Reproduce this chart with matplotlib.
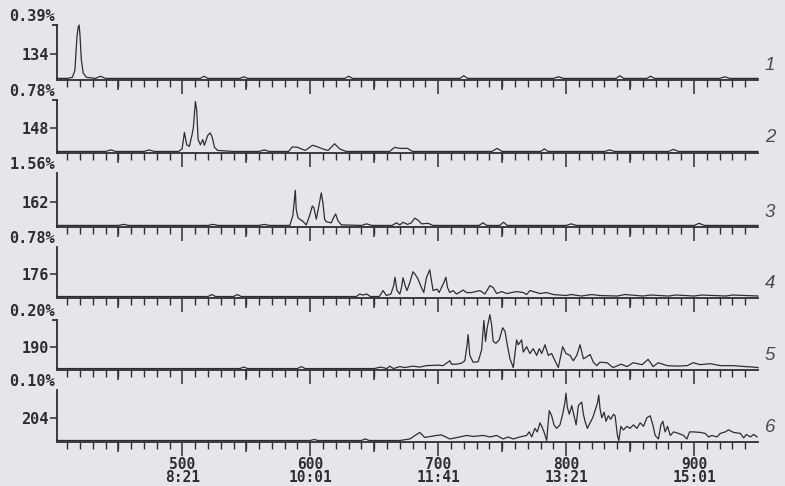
#!/usr/bin/env python

import numpy as np
import matplotlib.pyplot as plt

output_filepath = "out.png"

# Mass traces (scan number, relative intensity)
scan_134 = [402, 410, 414, 416, 417.5, 418.5, 419.3, 420, 421, 422.5, 425, 432,
            436, 440, 514, 517, 520, 545, 548, 551, 627, 630, 633, 717, 720, 723,
            790, 794, 798, 839, 842, 845, 863, 866, 869, 920, 924, 928, 950]
int_134 = [0, 0, 0.02, 0.15, 0.75, 0.95, 1.0, 0.8, 0.35, 0.1, 0.02, 0,
           0.04, 0, 0, 0.04, 0, 0, 0.03, 0, 0, 0.04, 0, 0, 0.05, 0,
           0, 0.03, 0, 0, 0.05, 0, 0, 0.04, 0, 0, 0.03, 0, 0]

scan_148 = [402, 440, 444, 448, 470, 474, 478, 497, 499.8, 501.6, 503.4, 505.5,
            507.6, 508.6, 510.2, 511.2, 512.3, 514.1, 515.9, 517.2, 519.8, 521.7,
            523.3, 525.1, 527.6, 540, 560, 564, 568, 583, 586, 590, 596, 601.8,
            605.7, 609.6, 614, 619, 623, 628, 662, 666, 670, 676, 680, 700, 742,
            746, 750, 780, 783, 786, 830, 834, 838, 880, 884, 888, 950]
int_148 = [0, 0, 0.03, 0, 0, 0.03, 0, 0, 0.05, 0.37, 0.13, 0.1,
           0.33, 0.47, 0.97, 0.81, 0.23, 0.13, 0.23, 0.12, 0.31, 0.36,
           0.28, 0.08, 0.02, 0, 0, 0.03, 0, 0, 0.09, 0.08, 0.02, 0.12,
           0.09, 0.05, 0.02, 0.15, 0.05, 0, 0, 0.08, 0.06, 0.06, 0, 0, 0,
           0.06, 0, 0, 0.05, 0, 0, 0.03, 0, 0, 0.04, 0, 0]

scan_162 = [402, 450, 454, 458, 520, 524, 528, 560, 564, 568, 584, 586.4, 588.3,
            589, 590.3, 591.6, 593.7, 596.9, 599.5, 601.6, 602.8, 604.7, 606.7,
            608.6, 609.9, 611.2, 612.5, 616.4, 618.2, 619.8, 621.6, 624.3, 640,
            644, 648, 664, 667.3, 670, 672.5, 676, 679, 681.7, 684.3, 687, 692.1,
            696, 732, 735, 738, 748, 751, 754, 800, 804, 808, 900, 904, 908, 950]
int_162 = [0, 0, 0.02, 0, 0, 0.02, 0, 0, 0.02, 0, 0, 0.19, 0.67,
           0.31, 0.15, 0.12, 0.09, 0.01, 0.19, 0.37, 0.34, 0.12, 0.37,
           0.62, 0.43, 0.12, 0.07, 0.05, 0.15, 0.22, 0.09, 0.01, 0,
           0.03, 0, 0, 0.05, 0.01, 0.06, 0.02, 0.05, 0.14, 0.1, 0.03, 0.04,
           0, 0, 0.05, 0, 0, 0.06, 0, 0, 0.03, 0, 0, 0.04, 0, 0]

scan_176 = [402, 520, 523, 526, 540, 543, 546, 636, 638.6, 641, 644.1, 647, 654,
            656.9, 659.5, 663, 665.2, 666.2, 667.8, 670, 671.3, 672.5, 674.4,
            675.6, 677.8, 680.3, 682.2, 684.3, 686.9, 688.7, 690.8, 693.4, 694.8,
            696, 699.1, 700.7, 704.4, 706, 707.3, 709.1, 711.7, 714.3, 719.5,
            722.2, 726.1, 732.6, 736.5, 740.4, 743, 745.7, 749.6, 753.5, 761.3,
            766.5, 769.1, 771.7, 779.6, 784.8, 790, 800, 804, 812, 820, 826, 840,
            846, 860, 866, 880, 886, 900, 906, 925, 930, 950]
int_176 = [0, 0, 0.04, 0, 0, 0.04, 0, 0, 0.05, 0.03, 0.05, 0, 0,
           0.12, 0.02, 0.05, 0.22, 0.39, 0.12, 0.05, 0.18, 0.38, 0.2,
           0.12, 0.28, 0.5, 0.44, 0.35, 0.18, 0.08, 0.38, 0.54, 0.31,
           0.12, 0.15, 0.08, 0.28, 0.39, 0.18, 0.08, 0.12, 0.05, 0.13,
           0.08, 0.08, 0.12, 0.05, 0.22, 0.18, 0.06, 0.1, 0.06, 0.1,
           0.08, 0.04, 0.12, 0.06, 0.08, 0.04, 0.02, 0.04, 0.01, 0.04, 0.02, 0.01,
           0.04, 0.01, 0.03, 0.01, 0.03, 0.01, 0.03, 0.01, 0.03, 0.01]

scan_190 = [402, 545, 548, 551, 590, 593, 596, 650, 655, 660, 662, 665, 670, 674,
            680, 685.6, 690.8, 699.9, 703.8, 709.1, 710.4, 714.3, 718.2, 720.8,
            722.6, 723.4, 724.7, 727.3, 731.2, 733.9, 735.7, 737, 738.3, 740.4,
            741.7, 743, 745.1, 747.7, 750.4, 752.2, 754, 756.1, 758.7, 761.3,
            762.6, 765.2, 766.5, 769.1, 771.7, 774.3, 777, 779, 780.9, 783.5,
            786.1, 788.7, 791.3, 793.9, 797.3, 799.9, 803.1, 805.6, 808.3, 810.9,
            813.5, 816.1, 818.7, 821.3, 823.9, 826.5, 832, 836.7, 843, 847.7,
            852.4, 859.4, 864.1, 868, 872, 879, 886.8, 894.7, 899.4, 904.9, 912.7,
            920.5, 930.7, 940, 946.4, 950]
int_190 = [0, 0, 0.03, 0, 0, 0.04, 0, 0, 0.03, 0, 0.05, 0, 0.04, 0.02,
           0.05, 0.03, 0.06, 0.07, 0.06, 0.16, 0.09, 0.09, 0.11, 0.16,
           0.49, 0.7, 0.27, 0.13, 0.14, 0.38, 0.99, 0.56, 0.84, 1.11,
           0.91, 0.56, 0.52, 0.59, 0.84, 0.77, 0.49, 0.2, 0.02, 0.59,
           0.49, 0.59, 0.34, 0.45, 0.31, 0.41, 0.27, 0.41, 0.31, 0.49,
           0.27, 0.31, 0.16, 0.02, 0.45, 0.31, 0.27, 0.16, 0.27, 0.49,
           0.2, 0.24, 0.29, 0.13, 0.06, 0.13, 0.12, 0.02, 0.09, 0.04,
           0.12, 0.08, 0.19, 0.04, 0.12, 0.06, 0.05, 0.06, 0.12, 0.08, 0.1,
           0.06, 0.06, 0.04, 0.03, 0.02]

scan_204 = [402, 600, 603, 606, 640, 643, 646, 670, 677.8, 685.6, 689.5, 698.7,
            702.6, 709.1, 715, 722.2, 727.3, 735.2, 740.4, 745.7, 750.8, 754.7,
            758.7, 763.9, 769.1, 771.2, 773.1, 775.6, 777.4, 779.6, 780.9, 782.7,
            784.8, 786.8, 788.7, 790.5, 792.6, 795.2, 797.3, 799.1, 799.9, 800.9,
            802.5, 804.4, 806.2, 807.8, 809.6, 810.9, 812.2, 813.5, 814.8, 816.6,
            818.7, 820.8, 822.6, 824.4, 825.5, 826.5, 827.9, 829.7, 831.2, 833,
            834.9, 837, 838.3, 840.1, 841.2, 842.8, 844.8, 847.5, 850, 852.6,
            855.3, 857.9, 860.5, 863.1, 865.7, 867.8, 869.6, 872.2, 874.1, 875.6,
            877.4, 879.3, 881.4, 884, 887.9, 891.8, 894.4, 896.5, 899.6, 904.9,
            908.8, 911.4, 914, 917.9, 920.5, 924.4, 927, 930.9, 936.2, 938.8,
            940.9, 944, 946.6, 949.3]
int_204 = [0, 0, 0.02, 0, 0, 0.03, 0, 0, 0.03, 0.16, 0.06, 0.1,
           0.11, 0.03, 0.06, 0.1, 0.08, 0.1, 0.07, 0.1, 0.03, 0.07,
           0.03, 0.07, 0.1, 0.17, 0.07, 0.24, 0.17, 0.35, 0.28, 0.17,
           0, 0.59, 0.49, 0.31, 0.24, 0.31, 0.52, 0.76, 0.94, 0.66,
           0.52, 0.69, 0.49, 0.31, 0.69, 0.73, 0.76, 0.52, 0.38, 0.24,
           0.35, 0.45, 0.59, 0.73, 0.9, 0.63, 0.45, 0.56, 0.38, 0.49,
           0.42, 0.52, 0.49, 0.1, 0, 0.28, 0.21, 0.28, 0.24, 0.31,
           0.24, 0.35, 0.28, 0.45, 0.49, 0.31, 0.1, 0.03, 0.31, 0.38,
           0.17, 0.28, 0.1, 0.17, 0.14, 0.1, 0.03, 0.17, 0.17, 0.16,
           0.14, 0.07, 0.1, 0.07, 0.14, 0.17, 0.21, 0.16, 0.14, 0.05,
           0.12, 0.07, 0.12, 0.07]

masses = [134, 148, 162, 176, 190, 204]
full_scale = ["0.39%", "0.78%", "1.56%", "0.78%", "0.20%", "0.10%"]
trace_numbers = ["1", "2", "3", "4", "5", "6"]
scans = [scan_134, scan_148, scan_162, scan_176, scan_190, scan_204]
intensities = [int_134, int_148, int_162, int_176, int_190, int_204]

tick_scans = [500, 600, 700, 800, 900]
tick_times = ["8:21", "10:01", "11:41", "13:21", "15:01"]

# layout of the printout, in pixels of the 785x486 page
W, H = 785, 486
panel_top = [25, 100, 173, 247, 320, 390]
panel_base = [80, 153, 227, 298, 370, 442]
hooked = [True, True, False, False, True, False]
x_left, x_right = 57, 758

paper = '#e4e6ea'
ink = '#2e2e30'

plt.rcParams['font.family'] = 'DejaVu Sans Mono'
plt.rcParams['font.weight'] = 'bold'

fig = plt.figure(figsize=(W / 100, H / 100), dpi=100, facecolor=paper)

for i in range(6):
    top, base = panel_top[i], panel_base[i]
    ax = fig.add_axes([x_left / W, 1 - base / H, (x_right - x_left) / W, (base - top) / H])
    ax.set_facecolor('none')
    ax.plot(scans[i], intensities[i], color=ink, lw=0.9, clip_on=False)
    ax.set_xlim(402, 950)
    ax.set_ylim(-0.03, 1.0)

    for side in ['top', 'right']:
        ax.spines[side].set_visible(False)
    for side in ['left', 'bottom']:
        ax.spines[side].set_linewidth(1.3)
        ax.spines[side].set_color(ink)

    ax.set_yticks([0.45])
    ax.set_yticklabels([str(masses[i])])
    ax.tick_params(axis='y', length=5, width=1.1, color=ink, pad=1,
                   labelsize=11, labelcolor=ink)

    ax.set_xticks(tick_scans)
    ax.set_xticks(np.arange(410, 950, 10), minor=True)
    ax.tick_params(axis='x', which='major', length=10, width=1.1, color=ink)
    ax.tick_params(axis='x', which='minor', length=5, width=1.0, color=ink)
    # medium ticks every 50 scans
    mid = ax.secondary_xaxis('bottom')
    mid.set_xticks(np.arange(450, 950, 100))
    mid.tick_params(length=7.5, width=1.1, color=ink, labelbottom=False)
    mid.spines['bottom'].set_visible(False)

    if i == 5:
        ax.set_xticklabels([f"{s}\n{t}" for s, t in zip(tick_scans, tick_times)])
        ax.tick_params(axis='x', which='major', labelsize=10.5, labelcolor=ink, pad=0.5)
        for lab in ax.get_xticklabels():
            lab.set_linespacing(0.88)
    else:
        ax.set_xticklabels([])

    if hooked[i]:
        ax.plot([-0.005, 0], [1, 1], transform=ax.transAxes, color=ink,
                lw=1.3, clip_on=False)

    ax.annotate(full_scale[i], xy=(0, 1), xycoords='axes fraction',
                xytext=(-1.5, 0.5), textcoords='offset points',
                ha='right', va='bottom', fontsize=11, color=ink)

    fig.text(770 / W, 1 - (base - 15) / H, trace_numbers[i], ha='center', va='center',
             fontsize=13.5, style='italic', weight='normal', family='Liberation Sans',
             color='#4a4a4c')

fig.savefig(output_filepath, dpi=100, facecolor=paper)
